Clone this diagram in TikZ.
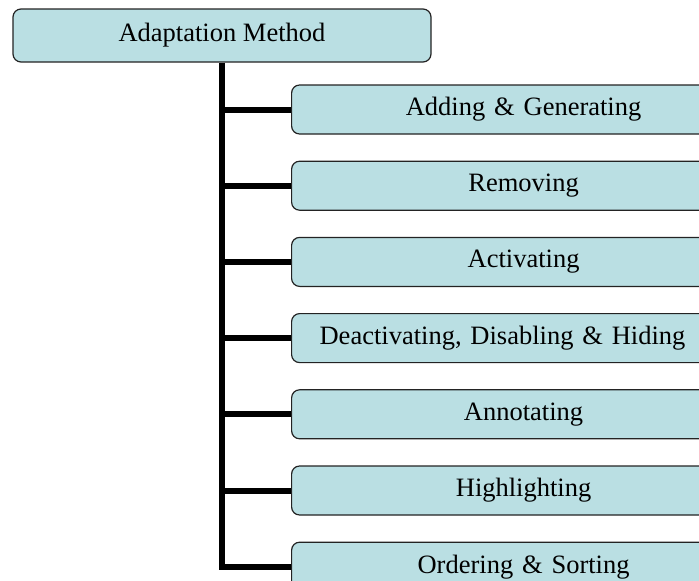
\documentclass[tikz,border=0pt]{standalone}
\usepackage{fontspec}
\setmainfont{Liberation Serif}
\usetikzlibrary{positioning}
\definecolor{boxfill}{RGB}{186,223,227}
\definecolor{boxline}{RGB}{35,35,35}
\tikzset{
 rootbox/.style={draw=boxline, fill=boxfill, line width=1.2pt, rounded corners=8pt,
   minimum width=418pt, minimum height=53pt, inner sep=0pt,
   font=\fontsize{26.5}{30}\selectfont},
 childbox/.style={rootbox, minimum width=464pt, minimum height=49pt,
   text width=456pt, align=center},
 branch/.style={line width=6pt}
}
\begin{document}
\begin{tikzpicture}[x=1pt, y=-1pt]
%\draw[help lines] (0,0) grid[step=50] (699,581);
\path[use as bounding box, clip] (0,0) rectangle (699,581);

 \node[rootbox] (root) at (222,35.5) {Adaptation Method};

 \node[childbox, anchor=west] (adding) at (291,109.5) {Adding \& Generating};
 \node[childbox, below=26pt of adding] (removing) {Removing};
 \node[childbox, below=26pt of removing] (activating) {Activating};
 \node[childbox, below=26pt of activating, align=left] (hiding)
   {\hspace*{24pt}Deactivating, Disabling \& Hiding};
 \node[childbox, below=26pt of hiding] (annotating) {Annotating};
 \node[childbox, below=26pt of annotating] (highlighting) {Highlighting};
 \node[childbox, below=26pt of highlighting] (ordering) {Ordering \& Sorting};

 % trunk and branches
 \draw[branch] (root.south) |- (ordering.west);
 \draw[branch] (root.south |- adding.west) -- (adding.west);
 \draw[branch] (root.south |- removing.west) -- (removing.west);
 \draw[branch] (root.south |- activating.west) -- (activating.west);
 \draw[branch] (root.south |- hiding.west) -- (hiding.west);
 \draw[branch] (root.south |- annotating.west) -- (annotating.west);
 \draw[branch] (root.south |- highlighting.west) -- (highlighting.west);

\end{tikzpicture}
\end{document}
